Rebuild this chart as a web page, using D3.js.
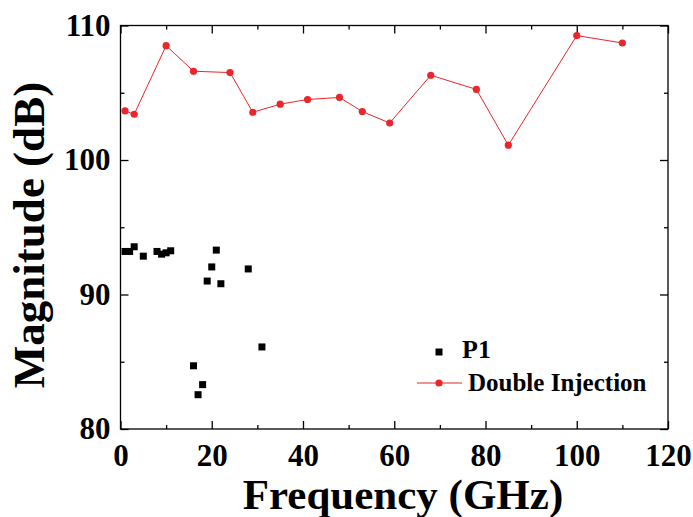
<!DOCTYPE html>
<html>
<head>
<meta charset="utf-8">
<script src="https://cdn.jsdelivr.net/npm/d3@7"></script>
<style>
  body { margin: 0; background: #fff; }
  text { font-family: "Liberation Serif", "Times New Roman", serif; font-weight: bold; }
</style>
</head>
<body>
<div id="chart"></div>
<script>
// P1 (black squares)
var p1Freq = [1, 2, 3, 5, 8, 9, 10, 11, 16, 17, 18, 19, 20, 21, 22, 28, 31];
var p1Mag  = [93.2, 93.2, 93.55, 92.85, 93.2, 93.0, 93.1, 93.25, 84.7, 82.55, 83.3, 91.0, 92.05, 93.3, 90.8, 91.9, 86.1];

// Double Injection (red line + dots)
var diFreq = [1, 3, 10, 16, 24, 29, 35, 41, 48, 53, 59, 68, 78, 85, 100, 110];
var diMag  = [103.65, 103.4, 108.5, 106.6, 106.5, 103.55, 104.15, 104.5, 104.65, 103.6, 102.75, 106.3, 105.25, 101.1, 109.25, 108.7];

var xTicks = [0, 20, 40, 60, 80, 100, 120];
var yTicks = [80, 90, 100, 110];

var W = 693, H = 517;
var m = {left: 120.5, right: 25, top: 25.5, bottom: 88};

var svg = d3.select('#chart').append('svg')
  .attr('width', W).attr('height', H);

var x = d3.scaleLinear().domain([0, 120]).range([m.left, W - m.right]);
var y = d3.scaleLinear().domain([80, 110]).range([H - m.bottom, m.top]);

var red = '#e8262b';

// frame
svg.append('rect')
  .attr('x', x(0)).attr('y', y(110))
  .attr('width', x(120) - x(0)).attr('height', y(80) - y(110))
  .attr('fill', 'none').attr('stroke', '#000').attr('stroke-width', 1.3);

var xMinor = d3.range(10, 120, 20);
var yMinor = d3.range(85, 110, 10);

function tickStyle(g) {
  g.select('.domain').remove();
  g.selectAll('line').attr('stroke', '#000').attr('stroke-width', 1.3);
}

// bottom axis (ticks inward)
var gb = svg.append('g').attr('transform', 'translate(0,' + y(80) + ')')
  .call(d3.axisBottom(x).tickValues(xTicks).tickSizeInner(-8).tickSizeOuter(0).tickPadding(15))
  .call(tickStyle);
gb.selectAll('text').attr('font-size', 31).attr('fill', '#000')
  .style('font-family', '"Liberation Serif", serif').style('font-weight', 'bold');
svg.append('g').attr('transform', 'translate(0,' + y(80) + ')')
  .call(d3.axisBottom(x).tickValues(xMinor).tickSize(-4).tickFormat(''))
  .call(tickStyle);

// top axis mirror
svg.append('g').attr('transform', 'translate(0,' + y(110) + ')')
  .call(d3.axisTop(x).tickValues(xTicks).tickSize(-8).tickFormat(''))
  .call(tickStyle);
svg.append('g').attr('transform', 'translate(0,' + y(110) + ')')
  .call(d3.axisTop(x).tickValues(xMinor).tickSize(-4).tickFormat(''))
  .call(tickStyle);

// left axis
var gl = svg.append('g').attr('transform', 'translate(' + x(0) + ',0)')
  .call(d3.axisLeft(y).tickValues(yTicks).tickSizeInner(-8).tickSizeOuter(0).tickPadding(10))
  .call(tickStyle);
gl.selectAll('text').attr('font-size', 31).attr('fill', '#000')
  .style('font-family', '"Liberation Serif", serif').style('font-weight', 'bold');
svg.append('g').attr('transform', 'translate(' + x(0) + ',0)')
  .call(d3.axisLeft(y).tickValues(yMinor).tickSize(-4).tickFormat(''))
  .call(tickStyle);

// right axis mirror
svg.append('g').attr('transform', 'translate(' + x(120) + ',0)')
  .call(d3.axisRight(y).tickValues(yTicks).tickSize(-8).tickFormat(''))
  .call(tickStyle);
svg.append('g').attr('transform', 'translate(' + x(120) + ',0)')
  .call(d3.axisRight(y).tickValues(yMinor).tickSize(-4).tickFormat(''))
  .call(tickStyle);

// axis titles
svg.append('text')
  .attr('x', 403).attr('y', 509)
  .attr('text-anchor', 'middle').attr('font-size', 43)
  .text('Frequency (GHz)');

svg.append('text')
  .attr('transform', 'translate(44,235) rotate(-90)')
  .attr('text-anchor', 'middle').attr('font-size', 45)
  .text('Magnitude (dB)');

// P1 squares
var p1 = p1Freq.map(function(f, i) { return {f: f, v: p1Mag[i]}; });
svg.selectAll('rect.p1').data(p1).enter().append('rect')
  .attr('class', 'p1')
  .attr('x', function(d) { return x(d.f) - 3.5; })
  .attr('y', function(d) { return y(d.v) - 3.5; })
  .attr('width', 7).attr('height', 7)
  .attr('fill', '#000');

// Double injection
var di = diFreq.map(function(f, i) { return {f: f, v: diMag[i]}; });
var line = d3.line().x(function(d) { return x(d.f); }).y(function(d) { return y(d.v); });
svg.append('path').datum(di)
  .attr('d', line).attr('fill', 'none')
  .attr('stroke', red).attr('stroke-width', 1);
svg.selectAll('circle.di').data(di).enter().append('circle')
  .attr('class', 'di')
  .attr('cx', function(d) { return x(d.f); })
  .attr('cy', function(d) { return y(d.v); })
  .attr('r', 3.6).attr('fill', red);

// legend
var lg = svg.append('g');
lg.append('rect').attr('x', 435.5).attr('y', 348.5).attr('width', 7).attr('height', 7).attr('fill', '#000');
lg.append('text').attr('x', 462).attr('y', 358).attr('font-size', 26).text('P1');
lg.append('line').attr('x1', 417).attr('x2', 462).attr('y1', 383).attr('y2', 383)
  .attr('stroke', red).attr('stroke-width', 1);
lg.append('circle').attr('cx', 439).attr('cy', 383).attr('r', 3.6).attr('fill', red);
lg.append('text').attr('x', 468).attr('y', 390.5).attr('font-size', 25).text('Double Injection');
</script>
</body>
</html>
